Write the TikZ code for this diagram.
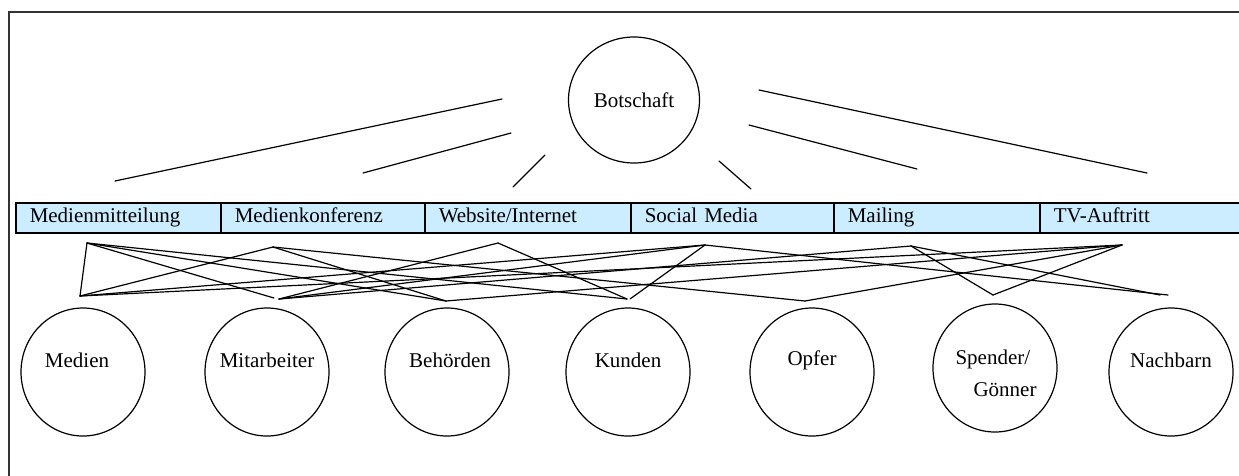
\documentclass[tikz,border=0pt]{standalone}
\usepackage{fontspec}
\setmainfont{Liberation Serif}
\usetikzlibrary{shapes.geometric}
\definecolor{barblue}{RGB}{204,236,255}
\begin{document}
\begin{tikzpicture}[x=1pt,y=-1pt,
  txt/.style={font=\fontsize{21}{25}\selectfont},
  frameline/.style={line width=1.4pt,black!80},
  cell/.style={txt,draw,line width=1.5pt,fill=barblue,rectangle,anchor=north west,
    minimum height=30pt,inner xsep=14pt,inner ysep=0pt,align=left,
    text height=15pt,text depth=5pt},
  bubble/.style={draw,ellipse,line width=1.2pt,inner sep=0pt},
  audience/.style={bubble,minimum width=124pt,minimum height=128pt},
  link/.style={line width=1.2pt,line cap=round}
]
\useasboundingbox (0,0) rectangle (1239,475);
\clip (0,0) rectangle (1239,475);

% outer frame
\draw[frameline] (9,490) -- (9,12) -- (1250,12);

% message bubble
\node[bubble,txt,minimum width=131pt,minimum height=126pt] (bot) at (634,100) {Botschaft};

% rays around the message
\coordinate (r1a) at (115,181); \coordinate (r1b) at (502,99);
\coordinate (r2a) at (363,173); \coordinate (r2b) at (511,133);
\coordinate (r3a) at (513,187); \coordinate (r3b) at (545,155);
\coordinate (r4a) at (719,161); \coordinate (r4b) at (751,189);
\coordinate (r5a) at (749,125); \coordinate (r5b) at (917,169);
\coordinate (r6a) at (759,90);  \coordinate (r6b) at (1147,173);
\foreach \i in {1,...,6} \draw[link] (r\i a) -- (r\i b);

% channel bar
\node[cell,text width=177pt] (mm) at (15,202)   {Medienmitteilung};
\node[cell,text width=176pt] (mk) at (220,202)  {Medienkonferenz};
\node[cell,text width=178pt] (wi) at (424,202)  {Website/Internet};
\node[cell,text width=175pt] (sm) at (630,202)  {Social Media};
\node[cell,text width=178pt] (ml) at (833,202)  {Mailing};
\node[cell,text width=183pt] (tv) at (1039,202) {TV-Auftritt};

% audiences
\node[audience] (a1) at (83,372)   {};
\node[audience] (a2) at (267,372)  {};
\node[audience] (a3) at (447,372)  {};
\node[audience] (a4) at (628,372)  {};
\node[audience] (a5) at (812,372)  {};
\node[audience] (a6) at (995,368)  {};
\node[audience] (a7) at (1171,372) {};
\node[txt] (t1) at ([xshift=-6pt,yshift=12pt]a1.center) {Medien};
\node[txt] (t2) at ([yshift=12pt]a2.center) {Mitarbeiter};
\node[txt] (t3) at ([xshift=3pt,yshift=12pt]a3.center) {Behörden};
\node[txt] (t4) at ([yshift=12pt]a4.center) {Kunden};
\node[txt] (t5) at ([yshift=12pt]a5.center) {Opfer};
\node[txt,anchor=west] (t6a) at (952,359) {Spender/};
\node[txt,anchor=west] (t6b) at (970,390) {Gönner};
\node[txt] (t7) at ([yshift=12pt]a7.center) {Nachbarn};

% channel to audience cross links
\coordinate (c1) at (87,243);
\coordinate (c2) at (273,247);
\coordinate (c3) at (498,243);
\coordinate (c4) at (705,245);
\coordinate (c5) at (911,246);
\coordinate (c6) at (1122,245);
\coordinate (g1) at (80,296);
\coordinate (g2) at (274,298);
\coordinate (g2b) at (279,299);
\coordinate (g3) at (446,301);
\coordinate (g4) at (627,299);
\coordinate (g4b) at (630,299);
\coordinate (g5) at (805,301);
\coordinate (g6) at (993,295);
\coordinate (g7) at (1160,295);
\coordinate (g7b) at (1168,295);
\foreach \p/\q in {c1/g1,c1/g2,c1/g3,c1/g4,
                   c2/g1,c2/g3,c2/g5,
                   c3/g2b,c3/g4,
                   c4/g1,c4/g2b,c4/g4b,c4/g7b,
                   c5/g2b,c5/g6,c5/g7,
                   c6/g1,c6/g3,c6/g5,c6/g6}
  \draw[link] (\p) -- (\q);
\end{tikzpicture}
\end{document}
